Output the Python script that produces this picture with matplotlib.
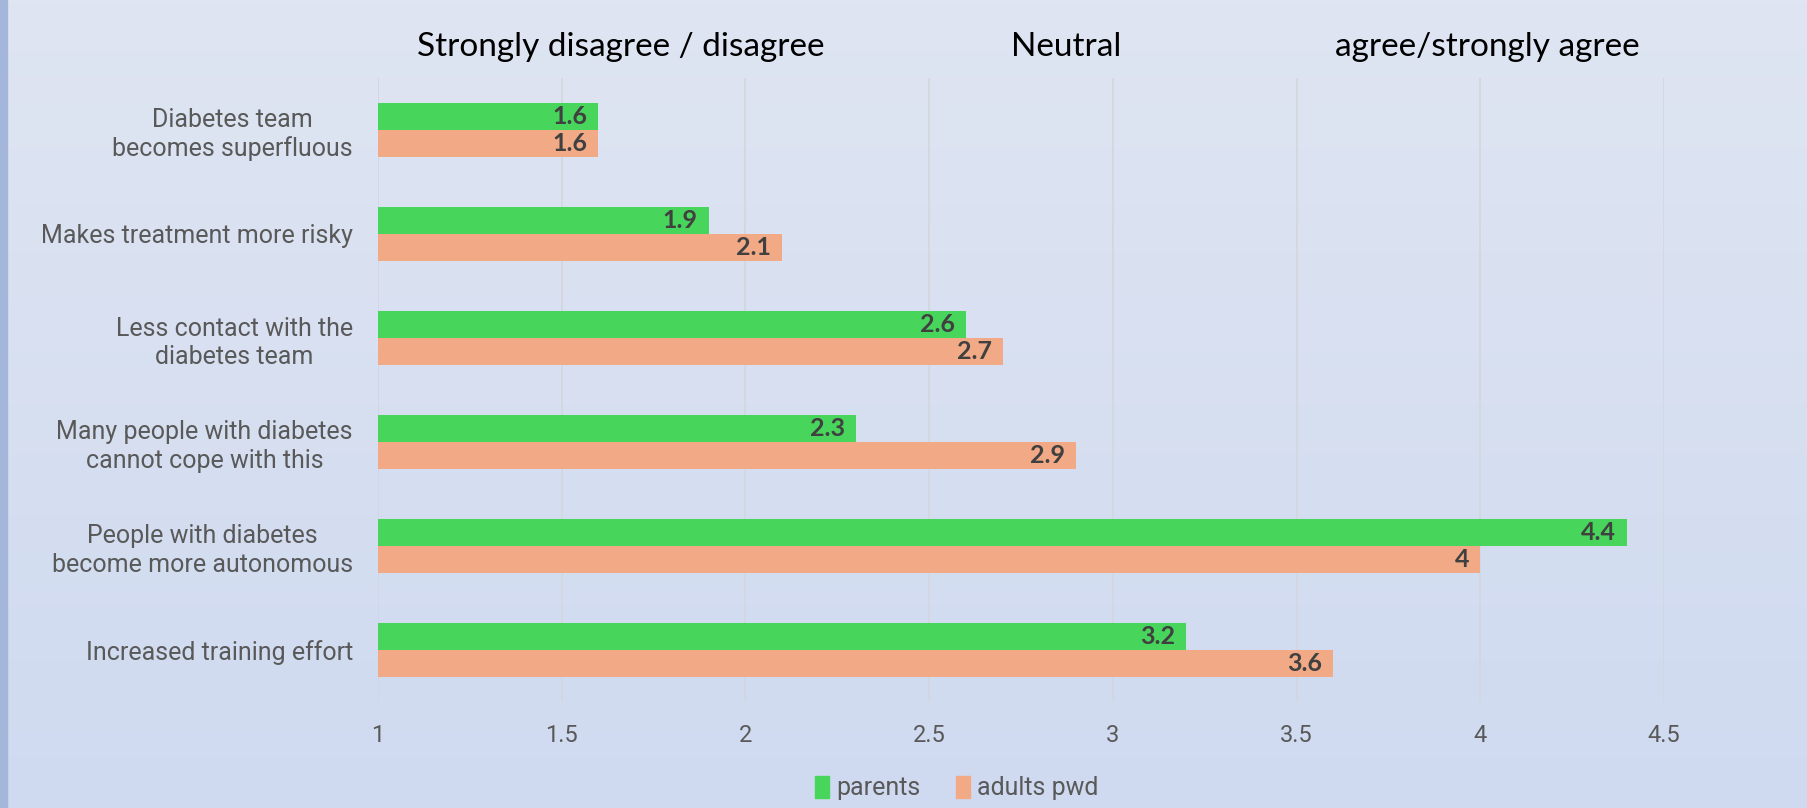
"""Diabetes survey: attitudes of parents vs adults pwd (horizontal grouped bars)."""

import matplotlib.pyplot as plt
import numpy as np
from matplotlib.colors import LinearSegmentedColormap
from matplotlib.patches import Patch

categories = [
    "Diabetes team\nbecomes superfluous",
    "Makes treatment more risky",
    "Less contact with the\ndiabetes team",
    "Many people with diabetes\ncannot cope with this",
    "People with diabetes\nbecome more autonomous",
    "Increased training effort",
]
parents = [1.6, 1.9, 2.6, 2.3, 4.4, 3.2]
adults_pwd = [1.6, 2.1, 2.7, 2.9, 4.0, 3.6]
series_names = ["parents", "adults pwd"]
x_ticks = [1, 1.5, 2, 2.5, 3, 3.5, 4, 4.5]
headers = [("Strongly disagree / disagree", 1.662), ("Neutral", 2.874), ("agree/strongly agree", 4.02)]

GREEN = "#48D55B"
ORANGE = "#F1AA85"
GREY = "#595959"

fig = plt.figure(figsize=(18.08, 8.08), dpi=100)

# background gradient + left accent strip
bg = fig.add_axes([0, 0, 1, 1], zorder=-10)
cmap = LinearSegmentedColormap.from_list("bg", ["#DFE5F2", "#CFDAF0"])
bg.imshow(np.linspace(0, 1, 256).reshape(-1, 1), aspect="auto", cmap=cmap,
          extent=[0, 1, 0, 1], origin="upper")
bg.axvspan(0, 7 / 1808, color="#A4B6DA")
bg.set_xlim(0, 1)
bg.set_ylim(0, 1)
bg.axis("off")

ax = fig.add_axes([378 / 1808, 106 / 808, 1286 / 1808, 624 / 808])
ax.set_facecolor("none")

y = np.arange(len(categories))
h = 0.26
ax.barh(y - h / 2, [v - 1 for v in parents], h, left=1, color=GREEN, zorder=3)
ax.barh(y + h / 2, [v - 1 for v in adults_pwd], h, left=1, color=ORANGE, zorder=3)

for vals, off in ((parents, -h / 2), (adults_pwd, h / 2)):
    for yi, v in zip(y, vals):
        ax.annotate(f"{v:g}", (v, yi + off), xytext=(-8, 0), textcoords="offset points",
                    ha="right", va="center", fontsize=18, fontweight="bold",
                    color="#404040", family="Lato", zorder=4)

ax.set_xlim(1, 4.5)
ax.set_ylim(len(categories) - 0.5, -0.5)
ax.set_xticks(x_ticks)
ax.set_xticklabels([f"{t:g}" for t in x_ticks], family="Roboto", fontsize=17, color=GREY)
ax.set_yticks(y)
ax.set_yticklabels(categories, family="Roboto", fontsize=18, color=GREY, linespacing=1.22)
for t in ax.get_yticklabels():
    t.set_multialignment("center")
ax.tick_params(axis="both", length=0)
ax.tick_params(axis="y", pad=18)
ax.tick_params(axis="x", pad=16)
ax.grid(axis="x", color="#D3D6DC", linewidth=1.2, zorder=0)
for s in ax.spines.values():
    s.set_visible(False)

for text, xpos in headers:
    ax.text(xpos, -0.5 - 0.3, text, ha="center", va="center", fontsize=24,
            family="Lato", color="black", transform=ax.transData, clip_on=False)

handles = [Patch(color=GREEN), Patch(color=ORANGE)]
fig.legend(handles, series_names, loc="center", bbox_to_anchor=(957 / 1808, 20 / 808),
           ncol=2, frameon=False, handlelength=0.55, handleheight=1.0, handletextpad=0.3,
           columnspacing=1.4, prop={"family": "Roboto", "size": 18}, labelcolor=GREY)

fig.savefig("out.png", dpi=100)
